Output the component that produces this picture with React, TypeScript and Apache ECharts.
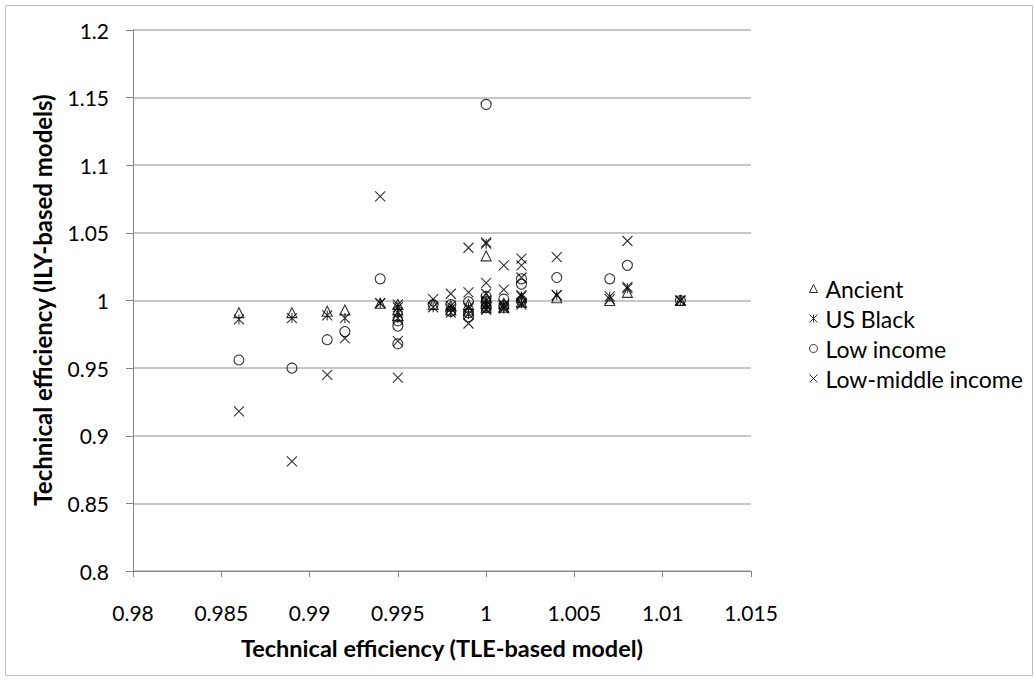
import React, { useEffect, useRef } from "react";
import * as echarts from "echarts";

const seriesNames = ["Ancient", "US Black", "Low income", "Low-middle income"];

const ancient: [number, number][] = [
  [0.986, 0.991], [0.989, 0.991], [0.991, 0.992], [0.992, 0.993], [0.994, 0.998],
  [0.995, 0.997], [0.995, 0.993], [0.995, 0.989], [0.997, 0.997], [0.998, 0.996],
  [0.998, 0.993], [0.999, 0.997], [0.999, 0.993], [1.0, 1.033], [1.0, 1.002],
  [1.0, 0.998], [1.0, 0.995], [1.001, 0.998], [1.001, 0.995], [1.002, 1.002],
  [1.002, 0.999], [1.004, 1.002], [1.007, 1.0], [1.008, 1.006], [1.011, 1.0],
];

const usBlack: [number, number][] = [
  [0.986, 0.986], [0.989, 0.987], [0.991, 0.989], [0.992, 0.987], [0.994, 0.998],
  [0.995, 0.995], [0.995, 0.991], [0.995, 0.987], [0.997, 0.995], [0.998, 0.994],
  [0.998, 0.991], [0.999, 0.995], [0.999, 0.99], [1.0, 1.042], [1.0, 1.0],
  [1.0, 0.996], [1.0, 0.994], [1.001, 0.997], [1.001, 0.994], [1.002, 1.003],
  [1.002, 0.998], [1.004, 1.004], [1.007, 1.003], [1.008, 1.009], [1.011, 1.0],
];

const lowIncome: [number, number][] = [
  [0.986, 0.956], [0.989, 0.95], [0.991, 0.971], [0.992, 0.977], [0.994, 1.016],
  [0.995, 0.985], [0.995, 0.981], [0.995, 0.968], [0.997, 0.997], [0.998, 0.997],
  [0.998, 0.992], [0.999, 0.999], [0.999, 0.991], [0.999, 0.988], [1.0, 1.145],
  [1.0, 1.003], [1.0, 0.999], [1.0, 0.995], [1.001, 1.001], [1.001, 0.996],
  [1.002, 1.016], [1.002, 1.012], [1.002, 1.0], [1.004, 1.017], [1.007, 1.016],
  [1.008, 1.026], [1.011, 1.0],
];

const lowMiddleIncome: [number, number][] = [
  [0.986, 0.918], [0.989, 0.881], [0.991, 0.945], [0.992, 0.972], [0.994, 1.077],
  [0.994, 0.998], [0.995, 0.997], [0.995, 0.97], [0.995, 0.943], [0.997, 1.001],
  [0.998, 1.005], [0.998, 0.996], [0.999, 1.039], [0.999, 1.006], [0.999, 0.983],
  [1.0, 1.043], [1.0, 1.013], [1.0, 1.005], [1.0, 0.997], [1.0, 0.993],
  [1.001, 1.026], [1.001, 1.008], [1.001, 0.995], [1.002, 1.031], [1.002, 1.026],
  [1.002, 1.017], [1.002, 1.004], [1.002, 0.997], [1.004, 1.032], [1.004, 1.004],
  [1.007, 1.001], [1.008, 1.044], [1.008, 1.01], [1.011, 1.0],
];

const xTitle = "Technical efficiency (TLE-based model)";
const yTitle = "Technical efficiency (ILY-based models)";

const STAR = "path://M0,0L10,10M10,0L0,10M5,0L5,10";
const CROSS = "path://M0,0L10,10M10,0L0,10";
const FONT = "Lato, 'Noto Sans', sans-serif";

const fmt = (v: number) => String(parseFloat(v.toFixed(3)));

export default function App() {
  const ref = useRef<HTMLDivElement>(null);
  useEffect(() => {
    if (!ref.current) return;
    const chart = echarts.init(ref.current, undefined, { renderer: "svg" });
    const hollow = { color: "rgba(0,0,0,0)", borderColor: "#000", borderWidth: 1.1 };
    const mk = (name: string, data: [number, number][], symbol: string, size: number) => ({
      name,
      type: "scatter",
      data,
      symbol,
      symbolSize: size,
      itemStyle: hollow,
      emphasis: { disabled: true },
    });
    chart.setOption({
      animation: false,
      backgroundColor: "#fff",
      textStyle: { fontFamily: FONT },
      grid: { left: 133, right: 283, top: 30, bottom: 110 },
      xAxis: {
        type: "value",
        min: 0.98,
        max: 1.015,
        interval: 0.005,
        axisLine: { show: true, onZero: false, lineStyle: { color: "#868686", width: 1 } },
        axisTick: { show: true, length: 6, lineStyle: { color: "#868686" } },
        splitLine: { show: false },
        axisLabel: { color: "#000", fontSize: 21, fontFamily: FONT, margin: 31, formatter: fmt },
      },
      yAxis: {
        type: "value",
        min: 0.8,
        max: 1.2,
        interval: 0.05,
        axisLine: { show: true, onZero: false, lineStyle: { color: "#868686", width: 1 } },
        axisTick: { show: true, length: 7, lineStyle: { color: "#868686" } },
        splitLine: { show: true, lineStyle: { color: "#b5b5b5", width: 1.5 } },
        axisLabel: { color: "#000", fontSize: 21, fontFamily: FONT, margin: 24, formatter: fmt },
      },
      legend: {
        orient: "vertical",
        left: 804,
        top: 272,
        itemWidth: 8,
        itemHeight: 8,
        itemGap: 7,
        selectedMode: false,
        itemStyle: { color: "rgba(0,0,0,0)", borderColor: "#000", borderWidth: 1 },
        textStyle: { fontSize: 23, fontFamily: FONT, color: "#000", padding: [0, 0, 0, 3], lineHeight: 22 },
        data: [
          { name: seriesNames[0], icon: "triangle" },
          { name: seriesNames[1], icon: STAR },
          { name: seriesNames[2], icon: "circle" },
          { name: seriesNames[3], icon: CROSS },
        ],
      },
      graphic: [
        {
          type: "rect",
          shape: { x: 5.5, y: 5.5, width: 1027, height: 670 },
          style: { fill: "none", stroke: "#bfbfbf", lineWidth: 1 },
          silent: true,
          z: -1,
        },
        {
          type: "text",
          x: 442,
          y: 648,
          style: { text: xTitle, font: `bold 23.5px ${FONT}`, fill: "#000", align: "center", verticalAlign: "middle" },
        },
        {
          type: "text",
          x: 42,
          y: 300,
          rotation: Math.PI / 2,
          style: { text: yTitle, font: `bold 24px ${FONT}`, fill: "#000", align: "center", verticalAlign: "middle" },
        },
      ],
      series: [
        mk(seriesNames[0], ancient, "triangle", 10),
        mk(seriesNames[1], usBlack, STAR, 10),
        mk(seriesNames[2], lowIncome, "circle", 10),
        mk(seriesNames[3], lowMiddleIncome, CROSS, 10),
      ],
    });
    return () => chart.dispose();
  }, []);
  return (
    <div
      ref={ref}
      style={{ position: "fixed", left: 0, top: 0, width: 1034, height: 681, background: "#fff" }}
    />
  );
}
